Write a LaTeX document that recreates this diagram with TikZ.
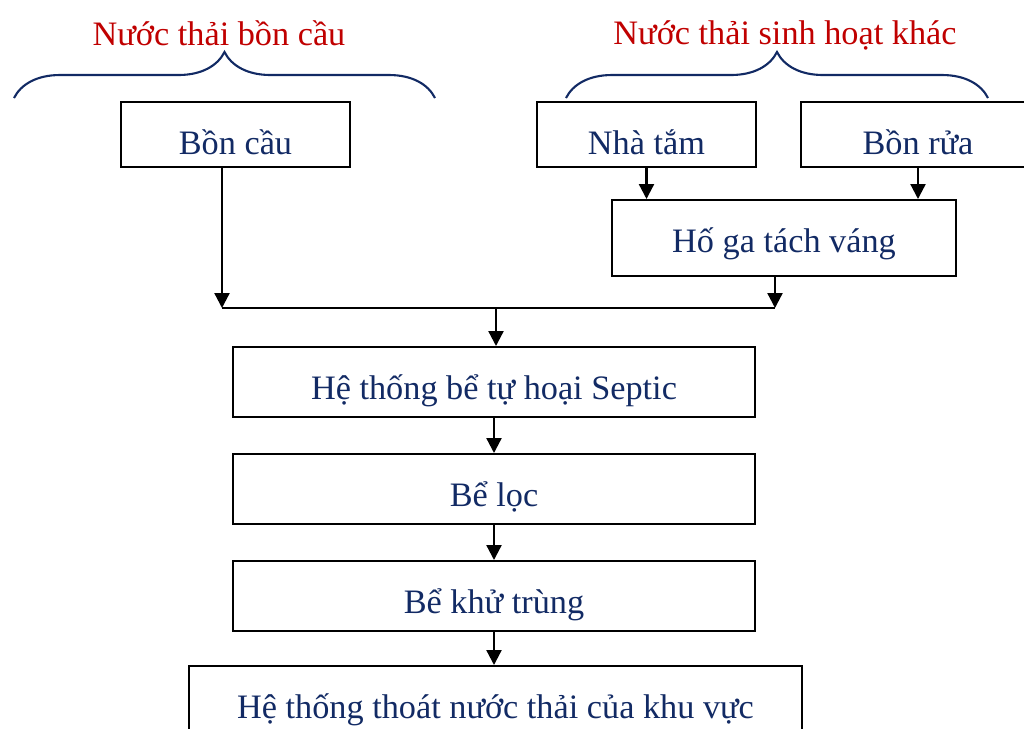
\documentclass[tikz,border=0pt]{standalone}
\usepackage{fontspec}
\setmainfont{Liberation Serif}
\usepackage{tikz}
\usetikzlibrary{arrows.meta,positioning,calc,decorations.pathreplacing}
\definecolor{xanh}{HTML}{122A64}
\definecolor{do}{HTML}{C00000}

\begin{document}
\begin{tikzpicture}[x=0.02cm, y=-0.02cm, >={Triangle[width=8.5pt,length=8.5pt]},
  font=\fontsize{19.5}{23}\selectfont,
  bx/.style={draw, line width=1.3pt, text=xanh, inner sep=0pt, anchor=north, text height=1.04cm},
  ar/.style={->, line width=1.3pt},
  ngoac/.style={draw=xanh, line width=1.2pt, decorate, decoration={brace, amplitude=0.92cm, aspect=0.5}},
  nhan/.style={text=do, anchor=base}]
  \useasboundingbox (0,0) rectangle (1024,728);
  \node[bx, minimum width=4.58cm, text depth=0.26cm] (boncau) at (235.5,101) {Bồn cầu};
  \node[bx, minimum width=4.38cm, text depth=0.26cm] (nhatam) at (646.5,101) {Nhà tắm};
  \node[bx, minimum width=4.68cm, text depth=0.26cm] (bonrua) at (918,101) {Bồn rửa};
  \node[bx, minimum width=6.88cm, text depth=0.48cm] (hoga) at (784,199) {Hố ga tách váng};
  \node[bx, minimum width=10.44cm, text depth=0.36cm] (septic) at (494,346) {Hệ thống bể tự hoại Septic};
  \node[bx, minimum width=10.44cm, text depth=0.36cm] (loc) at (494,453) {Bể lọc};
  \node[bx, minimum width=10.44cm, text depth=0.36cm] (khutrung) at (494,560) {Bể khử trùng};
  \node[bx, minimum width=12.26cm, text depth=0.56cm] (thoat) at (495.5,665) {Hệ thống thoát nước thải của khu vực};
  % ngoac nhom
  \coordinate (b1a) at (14,98);
  \coordinate (b1b) at (435,98);
  \coordinate (b2a) at (566,98);
  \coordinate (b2b) at (988,98);
  \draw[ngoac] (b1a) -- (b1b);
  \draw[ngoac] (b2a) -- (b2b);
  \node[nhan] (nt1) at (219,45) {Nước thải bồn cầu};
  \node[nhan] (nt2) at (785,44) {Nước thải sinh hoạt khác};
  % gom nuoc
  \coordinate (j1) at (222,308);
  \coordinate (j2) at (775,308);
  \coordinate (jm) at (496,308);
  \draw[ar] (j1 |- boncau.south) -- (j1);
  \draw[ar] (nhatam.south) -- (nhatam.south |- hoga.north);
  \draw[ar] (bonrua.south) -- (bonrua.south |- hoga.north);
  \draw[ar] (j2 |- hoga.south) -- (j2);
  \draw[line width=1.3pt] (j1) -- (j2);
  \draw[ar] (jm) -- (jm |- septic.north);
  \draw[ar] (septic) -- (loc);
  \draw[ar] (loc) -- (khutrung);
  \draw[ar] (khutrung.south) -- (khutrung.south |- thoat.north);
\end{tikzpicture}
\end{document}
